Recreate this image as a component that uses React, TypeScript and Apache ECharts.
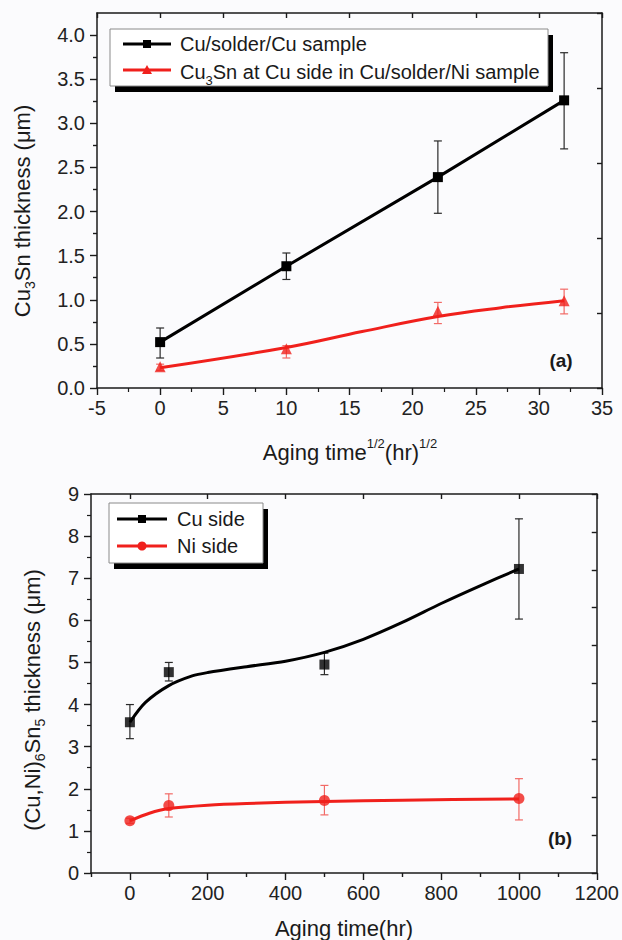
import React, { useEffect, useRef } from "react";
import * as echarts from "echarts";

// ---- Panel (a) data ----
const topX = [0, 10, 22, 32];
const topCuY = [0.52, 1.38, 2.39, 3.26];
const topCuLow = [0.34, 1.23, 1.98, 2.71];
const topCuHigh = [0.68, 1.53, 2.8, 3.8];
const topNiY = [0.24, 0.445, 0.87, 0.99];
const topNiLow = [0.2, 0.34, 0.73, 0.84];
const topNiHigh = [0.27, 0.48, 0.97, 1.12];
const topNiFitX = [0, 10, 16, 22, 27, 32];
const topNiFitY = [0.23, 0.46, 0.64, 0.81, 0.91, 0.99];
const topXTicks = [-5, 0, 5, 10, 15, 20, 25, 30, 35];
const topYTicks = [0, 0.5, 1, 1.5, 2, 2.5, 3, 3.5, 4];

// ---- Panel (b) data ----
const botX = [0, 100, 500, 1000];
const cuY = [3.58, 4.77, 4.95, 7.22];
const cuLow = [3.19, 4.56, 4.71, 6.03];
const cuHigh = [4.0, 5.0, 5.22, 8.41];
const niY = [1.24, 1.6, 1.72, 1.77];
const niLow = [1.18, 1.33, 1.38, 1.26];
const niHigh = [1.3, 1.88, 2.08, 2.24];
const cuFitX = [0, 40, 100, 160, 200, 300, 400, 500, 600, 700, 800, 900, 1000];
const cuFitY = [3.58, 4.05, 4.45, 4.68, 4.76, 4.9, 5.03, 5.24, 5.55, 5.95, 6.4, 6.82, 7.22];
const niFitX = [0, 50, 100, 200, 300, 500, 700, 1000];
const niFitY = [1.24, 1.42, 1.53, 1.61, 1.65, 1.7, 1.73, 1.76];
const botXTicks = [0, 200, 400, 600, 800, 1000, 1200];
const botXMinorTicks = [-100, 100, 300, 500, 700, 900, 1100];
const botYTicks = [0, 1, 2, 3, 4, 5, 6, 7, 8, 9];

const legendA = ["Cu/solder/Cu sample", "Cu{sub|3}Sn at Cu side in Cu/solder/Ni sample"];
const legendB = ["Cu side", "Ni side"];

const FONT = "'Liberation Sans', Arial, sans-serif";
const RED = "#f0201c";
const BLACK = "#000000";
const AXIS = "#1a1a1a";

const zip = (xs: number[], ys: number[]) => xs.map((x, i) => [x, ys[i]]);
const zip3 = (xs: number[], lo: number[], hi: number[]) => xs.map((x, i) => [x, lo[i], hi[i]]);

function errorBar(xAxisIndex: number, yAxisIndex: number, data: number[][], color: string) {
  return {
    type: "custom",
    xAxisIndex,
    yAxisIndex,
    z: 1,
    encode: { x: 0, y: [1, 2] },
    data,
    renderItem: (params: any, api: any) => {
      const x = api.value(0);
      const lo = api.value(1);
      const hi = api.value(2);
      const p1 = api.coord([x, hi]);
      const p2 = api.coord([x, lo]);
      const w = 4;
      const st = { stroke: color, lineWidth: 1.2 };
      return {
        type: "group",
        children: [
          { type: "line", shape: { x1: p1[0], y1: p1[1], x2: p2[0], y2: p2[1] }, style: st },
          { type: "line", shape: { x1: p1[0] - w, y1: p1[1], x2: p1[0] + w, y2: p1[1] }, style: st },
          { type: "line", shape: { x1: p2[0] - w, y1: p2[1], x2: p2[0] + w, y2: p2[1] }, style: st },
        ],
      };
    },
  };
}

const labelStyle = { fontSize: 20, color: "#222", fontFamily: FONT };

function makeAxis(
  kind: "x" | "y",
  gridIndex: number,
  min: number,
  max: number,
  interval: number,
  position: string,
  opts: {
    labels?: number[];
    ticks?: number[];
    minorSplit?: number;
    inside?: boolean;
    tickLen?: number;
    digits?: number;
    hideLine?: boolean;
  }
) {
  const ax: any = {
    type: "value",
    gridIndex,
    min,
    max,
    interval,
    position,
    axisLine: { show: !opts.hideLine, onZero: false, lineStyle: { color: AXIS, width: 1.5 } },
    axisTick: {
      show: true,
      inside: !!opts.inside,
      length: opts.tickLen ?? 7,
      lineStyle: { color: AXIS, width: 1.4 },
    },
    splitLine: { show: false },
    axisLabel: { show: false },
  };
  if (opts.ticks) ax.axisTick.customValues = opts.ticks;
  if (opts.minorSplit) {
    ax.minorTick = { show: true, splitNumber: opts.minorSplit, length: 4, lineStyle: { color: AXIS, width: 1.2 } };
  }
  if (opts.labels) {
    const d = opts.digits ?? 0;
    ax.axisLabel = {
      ...labelStyle,
      show: true,
      margin: kind === "x" ? 10 : 12,
      customValues: opts.labels,
      formatter: (v: number) => v.toFixed(d),
    };
  }
  return ax;
}

const textBase = { fontFamily: FONT, fill: "#1a1a1a" };

function legendBox(x: number, y: number, w: number, h: number) {
  return [
    { type: "rect", shape: { x: x + 5, y: y + 6, width: w, height: h }, style: { fill: "#000" }, z: 10 },
    { type: "rect", shape: { x, y, width: w, height: h }, style: { fill: "#ffffff", stroke: "#8a8a8a", lineWidth: 1 }, z: 11 },
  ];
}
function legendLine(x1: number, x2: number, y: number, color: string) {
  return { type: "line", shape: { x1, y1: y, x2, y2: y }, style: { stroke: color, lineWidth: 3 }, z: 12 };
}

export default function App() {
  const ref = useRef<HTMLDivElement>(null);
  useEffect(() => {
    if (!ref.current) return;
    const chart = echarts.init(ref.current, undefined, { renderer: "svg" });
    const subRich = {
      sub: { fontSize: 13, fontFamily: FONT, verticalAlign: "bottom", lineHeight: 30, fill: "#1a1a1a" },
    };
    const option: any = {
      animation: false,
      backgroundColor: "#fbfbfd",
      grid: [
        { left: 97, right: 20, top: 13, height: 375 },
        { left: 91, right: 23, top: 494, height: 379 },
      ],
      xAxis: [
        makeAxis("x", 0, -5, 35, 5, "bottom", { labels: topXTicks, ticks: topXTicks, minorSplit: 2 }),
        makeAxis("x", 0, -5, 35, 5, "top", { inside: true, tickLen: 5 }),
        makeAxis("x", 1, -100, 1200, 100, "bottom", { labels: botXTicks, ticks: botXTicks }),
        makeAxis("x", 1, -100, 1200, 100, "top", { inside: true, tickLen: 5, ticks: botXTicks }),
        makeAxis("x", 1, -100, 1200, 100, "bottom", { ticks: botXMinorTicks, tickLen: 4, hideLine: true }),
      ],
      yAxis: [
        makeAxis("y", 0, 0, 4.25, 0.25, "left", { labels: topYTicks, ticks: topYTicks, minorSplit: 0, digits: 1 }),
        makeAxis("y", 0, 0, 4.25, 0.85, "right", { inside: true, tickLen: 5 }),
        makeAxis("y", 1, 0, 9, 1, "left", { labels: botYTicks, ticks: botYTicks, minorSplit: 2 }),
        makeAxis("y", 1, 0, 9, 0.9, "right", { inside: true, tickLen: 5 }),
        makeAxis("y", 0, 0, 4.25, 0.25, "left", {
          ticks: [0.25, 0.75, 1.25, 1.75, 2.25, 2.75, 3.25, 3.75],
          tickLen: 4,
          hideLine: true,
        }),
      ],
      series: [
        errorBar(0, 0, zip3(topX, topCuLow, topCuHigh), "#2a2a2a"),
        errorBar(0, 0, zip3(topX, topNiLow, topNiHigh), "#f26a66"),
        {
          type: "line",
          name: "Cu/solder/Cu sample",
          xAxisIndex: 0,
          yAxisIndex: 0,
          data: zip(topX, topCuY),
          symbol: "rect",
          symbolSize: 10,
          lineStyle: { color: BLACK, width: 3 },
          itemStyle: { color: BLACK },
          z: 3,
        },
        {
          type: "line",
          xAxisIndex: 0,
          yAxisIndex: 0,
          data: zip(topNiFitX, topNiFitY),
          smooth: 0.4,
          showSymbol: false,
          symbol: "none",
          lineStyle: { color: RED, width: 3 },
          z: 3,
        },
        {
          type: "scatter",
          xAxisIndex: 0,
          yAxisIndex: 0,
          data: zip(topX, topNiY),
          symbol: "triangle",
          symbolSize: 11,
          itemStyle: { color: RED },
          z: 4,
        },
        errorBar(2, 2, zip3(botX, cuLow, cuHigh), "#2a2a2a"),
        errorBar(2, 2, zip3(botX, niLow, niHigh), "#f26a66"),
        {
          type: "line",
          xAxisIndex: 2,
          yAxisIndex: 2,
          data: zip(cuFitX, cuFitY),
          smooth: 0.3,
          showSymbol: false,
          symbol: "none",
          lineStyle: { color: BLACK, width: 3 },
          z: 3,
        },
        {
          type: "scatter",
          xAxisIndex: 2,
          yAxisIndex: 2,
          data: zip(botX, cuY),
          symbol: "rect",
          symbolSize: 10,
          itemStyle: { color: BLACK },
          z: 4,
        },
        {
          type: "line",
          xAxisIndex: 2,
          yAxisIndex: 2,
          data: zip(niFitX, niFitY),
          smooth: 0.3,
          showSymbol: false,
          symbol: "none",
          lineStyle: { color: RED, width: 3 },
          z: 3,
        },
        {
          type: "scatter",
          xAxisIndex: 2,
          yAxisIndex: 2,
          data: zip(botX, niY),
          symbol: "circle",
          symbolSize: 11,
          itemStyle: { color: RED },
          z: 4,
        },
      ],
      graphic: [
        // Panel (a) legend
        ...legendBox(110, 29, 438, 57),
        legendLine(123, 171, 44, BLACK),
        { type: "rect", shape: { x: 143, y: 40, width: 8, height: 8 }, style: { fill: BLACK }, z: 13 },
        { type: "text", x: 180, y: 44, style: { ...textBase, text: legendA[0], fontSize: 20, verticalAlign: "middle" }, z: 13 },
        legendLine(123, 171, 70, RED),
        { type: "polygon", shape: { points: [[147, 65], [142, 74], [152, 74]] }, style: { fill: RED }, z: 13 },
        {
          type: "text",
          x: 180,
          y: 72,
          style: { ...textBase, text: legendA[1], fontSize: 20, verticalAlign: "middle", lineHeight: 30, rich: subRich },
          z: 13,
        },
        // Panel (b) legend
        ...legendBox(109, 503, 154, 60),
        legendLine(117, 167, 519, BLACK),
        { type: "rect", shape: { x: 138, y: 515, width: 8, height: 8 }, style: { fill: BLACK }, z: 13 },
        { type: "text", x: 177, y: 519, style: { ...textBase, text: legendB[0], fontSize: 20, verticalAlign: "middle" }, z: 13 },
        legendLine(117, 167, 546, RED),
        { type: "circle", shape: { cx: 142, cy: 546, r: 4.5 }, style: { fill: RED }, z: 13 },
        { type: "text", x: 177, y: 546, style: { ...textBase, text: legendB[1], fontSize: 20, verticalAlign: "middle" }, z: 13 },
        // Panel labels
        { type: "text", x: 561, y: 360, style: { ...textBase, text: "(a)", fontSize: 19, fontWeight: "bold", align: "center", verticalAlign: "middle" }, z: 13 },
        { type: "text", x: 560, y: 838, style: { ...textBase, text: "(b)", fontSize: 19, fontWeight: "bold", align: "center", verticalAlign: "middle" }, z: 13 },
        // Axis titles
        {
          type: "text",
          x: 22,
          y: 211,
          rotation: Math.PI / 2,
          style: {
            ...textBase,
            text: "Cu{sub|3}Sn thickness (μm)",
            fontSize: 22,
            align: "center",
            verticalAlign: "middle",
            lineHeight: 30,
            rich: { sub: { ...subRich.sub, fontSize: 14 } },
          },
          z: 13,
        },
        {
          type: "text",
          x: 350,
          y: 452,
          style: {
            ...textBase,
            text: "Aging time{sup|1/2}(hr){sup|1/2}",
            fontSize: 22,
            align: "center",
            verticalAlign: "middle",
            lineHeight: 30,
            rich: { sup: { fontSize: 13, fontFamily: FONT, verticalAlign: "top", lineHeight: 30, fill: "#1a1a1a" } },
          },
          z: 13,
        },
        {
          type: "text",
          x: 32,
          y: 700,
          rotation: Math.PI / 2,
          style: {
            ...textBase,
            text: "(Cu,Ni){sub|6}Sn{sub|5} thickness (μm)",
            fontSize: 22,
            align: "center",
            verticalAlign: "middle",
            lineHeight: 30,
            rich: { sub: { ...subRich.sub, fontSize: 14 } },
          },
          z: 13,
        },
        {
          type: "text",
          x: 344,
          y: 928,
          style: { ...textBase, text: "Aging time(hr)", fontSize: 22, align: "center", verticalAlign: "middle" },
          z: 13,
        },
      ],
    };
    chart.setOption(option);
    return () => chart.dispose();
  }, []);
  return (
    <div
      ref={ref}
      style={{ position: "fixed", left: 0, top: 0, width: 622, height: 940 }}
    />
  );
}
